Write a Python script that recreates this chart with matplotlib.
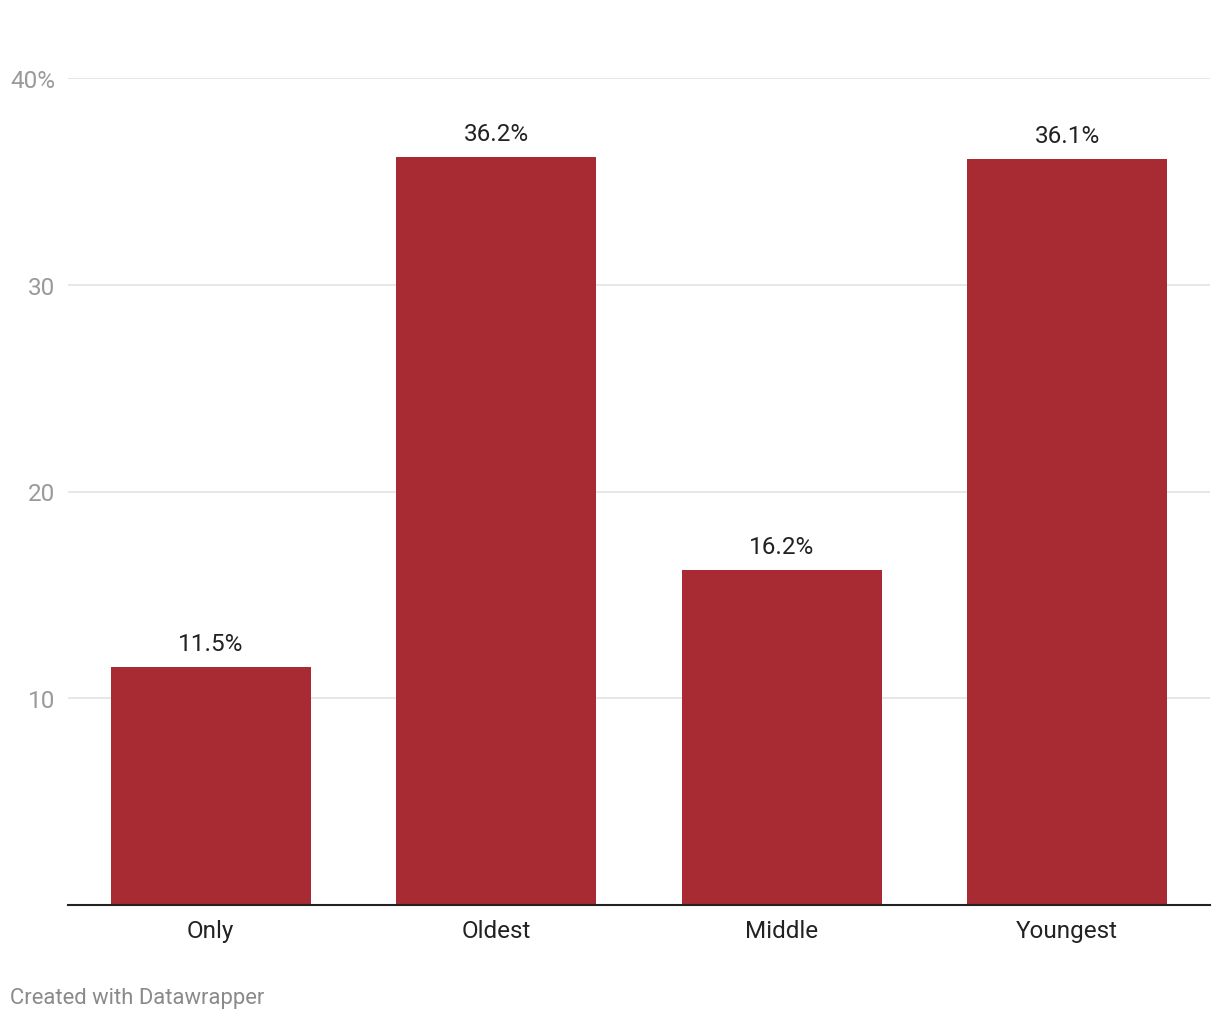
import matplotlib.pyplot as plt

plt.rcParams['font.family'] = ['Roboto', 'DejaVu Sans']

# Birth order share
categories = ['Only', 'Oldest', 'Middle', 'Youngest']
values = [11.5, 36.2, 16.2, 36.1]
yticks = [10, 20, 30, 40]
ytick_labels = ['10', '20', '30', '40%']

bar_color = '#a82a33'

fig = plt.figure(figsize=(12.2, 10.2), dpi=100)
ax = fig.add_axes([68 / 1220, 1 - 906 / 1020, (1210 - 68) / 1220, (906 - 79) / 1020])

x = range(len(categories))
bars = ax.bar(x, values, width=0.7, color=bar_color, zorder=2)

for xi, v in zip(x, values):
    ax.annotate(f'{v:.1f}%', (xi, v), xytext=(0, 8.5), textcoords='offset points',
                ha='center', va='bottom', fontsize=17.5, color='#222222')

ax.set_xlim(-0.5, len(categories) - 0.5)
ax.set_ylim(0, 40)
ax.set_xticks(list(x))
ax.set_xticklabels(categories, fontsize=17.5, color='#222222')
ax.set_yticks(yticks)
ax.set_yticklabels(ytick_labels, fontsize=17.5, color='#9a9a9a')
ax.tick_params(axis='x', length=0, pad=10)
ax.tick_params(axis='y', length=0, pad=9)

ax.grid(axis='y', color='#e3e3e3', linewidth=1.2, zorder=0)
for side in ['top', 'right', 'left']:
    ax.spines[side].set_visible(False)
ax.spines['bottom'].set_color('#222222')
ax.spines['bottom'].set_linewidth(1.5)
ax.spines['bottom'].set_zorder(3)

fig.text(10 / 1220, 1 - 999 / 1020, 'Created with Datawrapper', fontsize=15.8,
         color='#8a8a8a', ha='left', va='center')

fig.savefig('out.png', dpi=100, facecolor='white')
